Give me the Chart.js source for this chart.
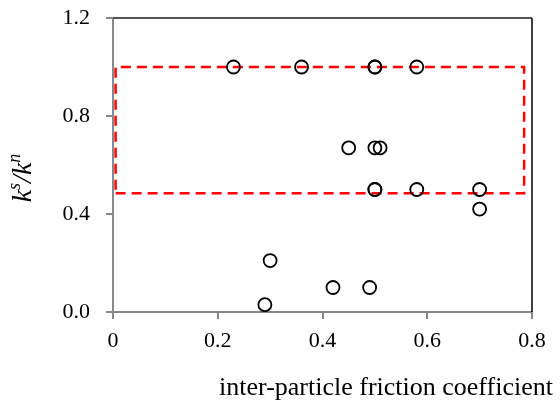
<!DOCTYPE html>
<html lang="en">
<head>
<meta charset="UTF-8" />
<title>Stiffness ratio vs friction</title>
<style>
  html, body { margin: 0; background: #fff; }
  #wrap { width: 560px; height: 405px; position: relative; }
</style>
</head>
<body>
<div id="wrap"><canvas id="scatter"></canvas></div>

<script src="https://cdn.jsdelivr.net/npm/chart.js"></script>
<script>
  // measured samples: friction coefficient vs k_s/k_n
  const frictionCoef = [0.23, 0.36, 0.50, 0.50, 0.58, 0.45, 0.50, 0.51, 0.50, 0.50, 0.58, 0.70, 0.70, 0.30, 0.29, 0.42, 0.49];
  const stiffnessRatio = [1.0, 1.0, 1.0, 1.0, 1.0, 0.67, 0.67, 0.67, 0.5, 0.5, 0.5, 0.5, 0.42, 0.21, 0.03, 0.10, 0.10];

  // highlighted range (dashed box)
  const boxX = [0.005, 0.785, 0.785, 0.005, 0.005];
  const boxY = [0.485, 0.485, 1.0, 1.0, 0.485];

  const xTicks = ['0', '0.2', '0.4', '0.6', '0.8'];
  const yTicks = ['0.0', '0.4', '0.8', '1.2'];

  const serif = "'Liberation Serif', 'Times New Roman', serif";

  const points = frictionCoef.map((x, i) => ({ x, y: stiffnessRatio[i] }));
  const box = boxX.map((x, i) => ({ x, y: boxY[i] }));

  // frame lines on top/right + axis titles
  const decorations = {
    id: 'decorations',
    afterDraw(chart) {
      const { ctx, chartArea: a } = chart;
      ctx.save();
      ctx.lineWidth = 2;
      ctx.strokeStyle = '#555';
      ctx.beginPath();
      ctx.moveTo(a.left, a.top);
      ctx.lineTo(a.right, a.top);
      ctx.stroke();
      ctx.strokeStyle = '#000';
      ctx.lineWidth = 1.5;
      ctx.beginPath();
      ctx.moveTo(a.right, a.top);
      ctx.lineTo(a.right, a.bottom);
      ctx.stroke();

      // x title
      ctx.fillStyle = '#000';
      ctx.font = '26px ' + serif;
      ctx.textAlign = 'center';
      ctx.textBaseline = 'middle';
      ctx.fillText('inter-particle friction coefficient', 386, 388);

      // y title: k^s / k^n, rotated
      ctx.translate(24, 178);
      ctx.rotate(-Math.PI / 2);
      const big = 'italic 28px ' + serif;
      const small = 'italic 18px ' + serif;
      const parts = [['k', big, 0], ['s', small, -9], ['/', big, 0], ['k', big, 0], ['n', small, -9]];
      let w = 0;
      parts.forEach(p => { ctx.font = p[1]; w += ctx.measureText(p[0]).width; });
      let x = -w / 2;
      ctx.textAlign = 'left';
      parts.forEach(p => {
        ctx.font = p[1];
        ctx.fillText(p[0], x, p[2]);
        x += ctx.measureText(p[0]).width;
      });
      ctx.restore();
    }
  };

  new Chart(document.getElementById('scatter'), {
    type: 'scatter',
    data: {
      datasets: [{
        data: points,
        pointStyle: 'circle',
        pointRadius: 6.5,
        pointBorderWidth: 1.8,
        borderColor: '#000',
        backgroundColor: 'rgba(0,0,0,0)',
        showLine: false
      }, {
        data: box,
        showLine: true,
        pointRadius: 0,
        borderColor: '#ff0000',
        borderWidth: 2.5,
        borderDash: [10, 6],
        fill: false
      }]
    },
    options: {
      responsive: true,
      maintainAspectRatio: false,
      animation: false,
      layout: { padding: { top: 18, right: 28, left: 0, bottom: 0 } },
      plugins: { legend: { display: false }, tooltip: { enabled: false } },
      scales: {
        x: {
          type: 'linear',
          min: 0, max: 0.8,
          afterFit: s => { s.height = 93; s.paddingLeft = 0; s.paddingRight = 0; },
          afterBuildTicks: s => { s.ticks = xTicks.map(v => ({ value: parseFloat(v) })); },
          ticks: {
            color: '#000',
            font: { family: serif, size: 22 },
            padding: 9,
            maxRotation: 0,
            callback: (v, i) => xTicks[i]
          },
          grid: { drawOnChartArea: false, drawTicks: true, tickLength: 7, color: '#888', lineWidth: 2 },
          border: { display: true, color: '#888', width: 2 }
        },
        y: {
          type: 'linear',
          min: 0, max: 1.2,
          afterFit: s => { s.width = 113; s.paddingTop = 0; s.paddingBottom = 0; },
          afterBuildTicks: s => { s.ticks = yTicks.map(v => ({ value: parseFloat(v) })); },
          ticks: {
            color: '#000',
            font: { family: serif, size: 22 },
            padding: 16,
            callback: (v, i) => yTicks[i]
          },
          grid: { drawOnChartArea: false, drawTicks: true, tickLength: 7, color: '#888', lineWidth: 2 },
          border: { display: true, color: '#888', width: 2 }
        }
      }
    },
    plugins: [decorations]
  });
</script>
</body>
</html>
